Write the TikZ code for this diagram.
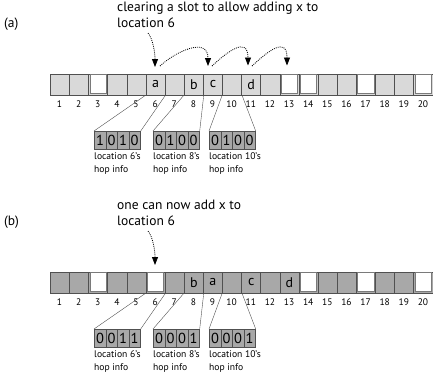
\documentclass[tikz,border=0pt]{standalone}
\usepackage{fontspec}
\setmainfont{PT Sans}
\usetikzlibrary{arrows.meta}
\definecolor{lightcell}{HTML}{D9D9D9}
\definecolor{darkcell}{HTML}{A8A8A8}
\definecolor{lineg}{HTML}{505050}
\definecolor{freeb}{HTML}{7A7A7A}
\tikzset{
 cellbox/.style={draw=lineg, line width=0.7pt, minimum width=19.13pt, minimum height=21pt, inner sep=0pt, anchor=north west},
 celltext/.style={font=\fontsize{14}{14}\selectfont, inner sep=0pt},
 numlab/.style={font=\fontsize{9.5}{9.5}\selectfont, inner sep=0pt},
 hopcell/.style={draw=lineg, line width=0.7pt, fill=darkcell, minimum width=11.5pt, minimum height=18pt, inner sep=0pt, anchor=north west, font=\fontsize{14.5}{14.5}\selectfont},
 hoplab/.style={font=\fontsize{9.6}{13}\selectfont, align=left, anchor=north west, inner sep=0pt},
 leader/.style={draw=lineg, line width=0.4pt},
 dotarrow/.style={line width=0.8pt, dash pattern=on 0.9pt off 1.1pt, -{Triangle[length=8pt,width=6pt]}},
 note/.style={font=\fontsize{13.5}{16.5}\selectfont, align=left, anchor=north west, inner sep=0pt},
 panellab/.style={font=\fontsize{13.5}{13.5}\selectfont, anchor=west, inner sep=0pt},
}
\newcommand\freeslot[1]{\draw[fill=white, draw=freeb, line width=1pt] ([shift={(1.8pt,-1.3pt)}]#1.north west) rectangle ([shift={(-1.8pt,1.3pt)}]#1.south east);}
\begin{document}
\begin{tikzpicture}[x=1pt,y=-1pt]
\useasboundingbox (0,0) rectangle (433,376);
% ---------- panel (a)
\node[panellab] (pa) at (4,24) {(a)};
\node[note] (notea) at (117,1.5) {clearing a slot to allow adding x to\\location 6};
\foreach \i in {1,...,20}
  \node[cellbox, fill=lightcell] (a\i) at ({50+19.13*(\i-1)},73.5) {};
\foreach \i in {3,13,14,17,20} {\freeslot{a\i}}
\node[celltext] (xa) at (a6) {a};
\node[celltext] (xb) at (a8) {b};
\node[celltext] (xc) at (a9) {c};
\node[celltext] (xd) at (a11) {d};
\foreach \i in {1,...,20}
  \node[numlab] (na\i) at ({59.5+19.13*(\i-1)},104) {\i};
\foreach \b [count=\k] in {1,0,1,0}
  \node[hopcell] (ha1\k) at ({94+11.5*(\k-1)},131) {\b};
\foreach \b [count=\k] in {0,1,0,0}
  \node[hopcell] (ha2\k) at ({153+11.5*(\k-1)},131) {\b};
\foreach \b [count=\k] in {0,1,0,0}
  \node[hopcell] (ha3\k) at ({209+11.5*(\k-1)},131) {\b};
\draw[leader] (a6.south west) -- (ha11.north west);
\draw[leader] (a6.south east) -- (ha14.north east);
\draw[leader] (a8.south west) -- (ha21.north west);
\draw[leader] (a8.south east) -- (ha24.north east);
\draw[leader] (a10.south west) -- (ha31.north west);
\draw[leader] (a10.south east) -- (ha34.north east);
\node[hoplab] (la1) at (94,152) {location 6's\\hop info};
\node[hoplab] (la2) at (153,152) {location 8's\\hop info};
\node[hoplab] (la3) at (209,152) {location 10's\\hop info};
\coordinate (sa0) at (148,33);
\coordinate (ta1) at (155,67);
\coordinate (sa1) at (160,66);
\coordinate (ta2) at (208,66);
\coordinate (sa2) at (212,66);
\coordinate (ta3) at (248,65.5);
\coordinate (sa3) at (252,66);
\coordinate (ta4) at (287,65.5);
\draw[dotarrow] (sa0) .. controls +(5,6) and +(0,-14) .. (ta1);
\draw[dotarrow] (sa1) .. controls +(15,-14) and +(0,-30) .. (ta2);
\draw[dotarrow] (sa2) .. controls +(15,-14) and +(0,-30) .. (ta3);
\draw[dotarrow] (sa3) .. controls +(15,-14) and +(0,-30) .. (ta4);
% ---------- panel (b)
\begin{scope}[yshift=-198pt]
\node[panellab] (pb) at (4,24) {(b)};
\node[note] (noteb) at (117,1.5) {one can now add x to\\location 6};
\foreach \i in {1,...,20}
  \node[cellbox, fill=darkcell] (b\i) at ({50+19.13*(\i-1)},73.5) {};
\foreach \i in {3,6,14,17,20} {\freeslot{b\i}}
\node[celltext] (yb) at (b8) {b};
\node[celltext] (ya) at (b9) {a};
\node[celltext] (yc) at (b11) {c};
\node[celltext] (yd) at (b13) {d};
\foreach \i in {1,...,20}
  \node[numlab] (nb\i) at ({59.5+19.13*(\i-1)},104) {\i};
\foreach \b [count=\k] in {0,0,1,1}
  \node[hopcell] (hb1\k) at ({94+11.5*(\k-1)},131) {\b};
\foreach \b [count=\k] in {0,0,0,1}
  \node[hopcell] (hb2\k) at ({153+11.5*(\k-1)},131) {\b};
\foreach \b [count=\k] in {0,0,0,1}
  \node[hopcell] (hb3\k) at ({209+11.5*(\k-1)},131) {\b};
\draw[leader] (b6.south west) -- (hb11.north west);
\draw[leader] (b6.south east) -- (hb14.north east);
\draw[leader] (b8.south west) -- (hb21.north west);
\draw[leader] (b8.south east) -- (hb24.north east);
\draw[leader] (b10.south west) -- (hb31.north west);
\draw[leader] (b10.south east) -- (hb34.north east);
\node[hoplab] (lb1) at (94,152) {location 6's\\hop info};
\node[hoplab] (lb2) at (153,152) {location 8's\\hop info};
\node[hoplab] (lb3) at (209,152) {location 10's\\hop info};
\coordinate (sb0) at (148,33);
\coordinate (tb1) at (155,67);
\draw[dotarrow] (sb0) .. controls +(5,6) and +(0,-14) .. (tb1);
\end{scope}
\end{tikzpicture}
\end{document}
